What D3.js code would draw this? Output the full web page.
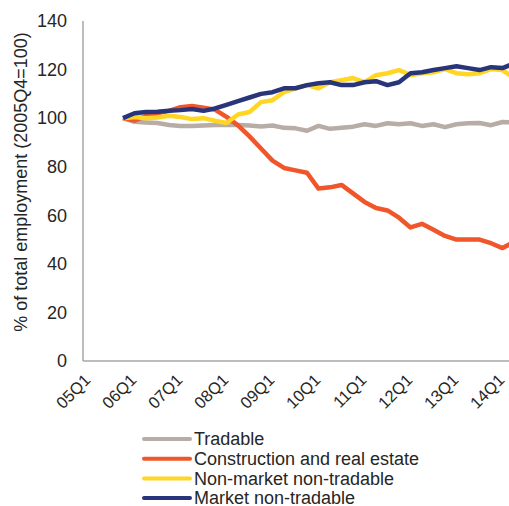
<html>
  <head>
    <meta charset="UTF-8">
    <style>
      body { margin: 0; background: #fff; }
      text { font-family: "Liberation Sans", Arial, sans-serif; fill: #262626; }
    </style>
  </head>
  <body>
    <script src="https://d3js.org/d3.v7.min.js"></script>
    <script>

var width = 509;
var height = 506;

// categories on the x axis (05Q1 .. 14Q2)
var axisQuarters = [
  "05Q1","05Q2","05Q3","05Q4","06Q1","06Q2","06Q3","06Q4",
  "07Q1","07Q2","07Q3","07Q4","08Q1","08Q2","08Q3","08Q4",
  "09Q1","09Q2","09Q3","09Q4","10Q1","10Q2","10Q3","10Q4",
  "11Q1","11Q2","11Q3","11Q4","12Q1","12Q2","12Q3","12Q4",
  "13Q1","13Q2","13Q3","13Q4","14Q1","14Q2"
];
var tickLabels = ["05Q1","06Q1","07Q1","08Q1","09Q1","10Q1","11Q1","12Q1","13Q1","14Q1"];
var yTicks = [0, 20, 40, 60, 80, 100, 120, 140];

// data quarters (05Q4 .. 14Q2)
var quarters = axisQuarters.slice(3);

var tradable = [100, 98.5, 98.2, 98, 97.2, 96.8, 96.8, 97, 97.2, 97.2, 97.2, 97, 96.6,
  97, 96, 95.8, 94.8, 96.8, 95.6, 96, 96.5, 97.5, 96.8, 97.9, 97.5, 97.9, 96.8, 97.5,
  96.3, 97.5, 97.9, 98, 97.1, 98.4, 98.2];
var construction = [100, 99, 101, 102, 103, 104.5, 105, 104.3, 103.5, 100.5, 97, 92.5, 87.5,
  82.5, 79.5, 78.5, 77.5, 71, 71.5, 72.5, 69, 65.5, 63, 62, 59, 55, 56.5, 54,
  51.5, 50, 50, 50, 48.5, 46.5, 49];
var nonMarket = [100, 100.5, 100, 100.3, 101, 100.5, 99.6, 100, 98.9, 98, 101.5, 102.5, 106.6,
  107.4, 110.7, 112.3, 113.6, 112.3, 114.8, 115.6, 116.5, 114.8, 117.7, 118.5, 119.8, 117.7,
  118.5, 118.9, 120.2, 118.5, 118.1, 118.5, 120.2, 119.8, 116.5];
var market = [100, 102, 102.5, 102.6, 103, 103.3, 103.8, 103, 104, 105.5, 107, 108.5, 110,
  110.7, 112.3, 112.3, 113.6, 114.4, 114.8, 113.6, 113.6, 114.8, 115.2, 113.6, 114.8, 118.5,
  118.9, 119.8, 120.6, 121.4, 120.6, 119.8, 121, 120.6, 122.5];

var seriesNames = ["Tradable", "Construction and real estate", "Non-market non-tradable", "Market non-tradable"];
var seriesColors = ["#b8aca7", "#f0562a", "#ffd624", "#28357a"];
var seriesValues = [tradable, construction, nonMarket, market];

var svg = d3.select("body").append("svg")
    .attr("width", width).attr("height", height);

var x = d3.scalePoint().domain(axisQuarters).range([88.5, 514]);
var y = d3.scaleLinear().domain([0, 140]).range([361, 21]);

// axes lines
svg.append("line")
    .attr("x1", 83).attr("x2", 83)
    .attr("y1", y(140)).attr("y2", y(0))
    .style("stroke", "#a6a6a6").style("stroke-width", 1.5);
svg.append("line")
    .attr("x1", 83).attr("x2", width)
    .attr("y1", y(0)).attr("y2", y(0))
    .style("stroke", "#a6a6a6").style("stroke-width", 1.5);

// y tick labels
svg.selectAll(".ylab").data(yTicks).enter().append("text")
    .attr("class", "ylab")
    .attr("x", 67)
    .attr("y", function(d) { return y(d); })
    .attr("dy", "0.35em")
    .attr("text-anchor", "end")
    .style("font-size", "18px")
    .text(function(d) { return d; });

// y title
svg.append("text")
    .attr("transform", "translate(27,182) rotate(-90)")
    .attr("text-anchor", "middle")
    .style("font-size", "18px")
    .text("% of total employment (2005Q4=100)");

// x tick labels
svg.selectAll(".xlab").data(tickLabels).enter().append("text")
    .attr("class", "xlab")
    .attr("transform", function(d) { return "translate(" + (x(d) - 1) + ",377) rotate(-45)"; })
    .attr("text-anchor", "end")
    .attr("dy", "0.35em")
    .style("font-size", "16.5px")
    .text(function(d) { return d; });

// lines
var line = d3.line()
    .x(function(d, i) { return x(quarters[i]); })
    .y(function(d) { return y(d); });

svg.selectAll(".series").data(seriesValues).enter().append("path")
    .attr("class", "series")
    .attr("d", line)
    .style("fill", "none")
    .style("stroke", function(d, i) { return seriesColors[i]; })
    .style("stroke-width", 4.5)
    .style("stroke-linejoin", "round");

// legend
var legend = svg.selectAll(".legend").data(seriesNames).enter().append("g")
    .attr("class", "legend")
    .attr("transform", function(d, i) { return "translate(0," + (439 + i * 19.7) + ")"; });
legend.append("line")
    .attr("x1", 144).attr("x2", 190)
    .style("stroke", function(d, i) { return seriesColors[i]; })
    .style("stroke-width", 4)
    .style("stroke-linecap", "round");
legend.append("text")
    .attr("x", 194)
    .attr("dy", "0.35em")
    .style("font-size", "18px")
    .text(function(d) { return d; });

    </script>
  </body>
</html>
